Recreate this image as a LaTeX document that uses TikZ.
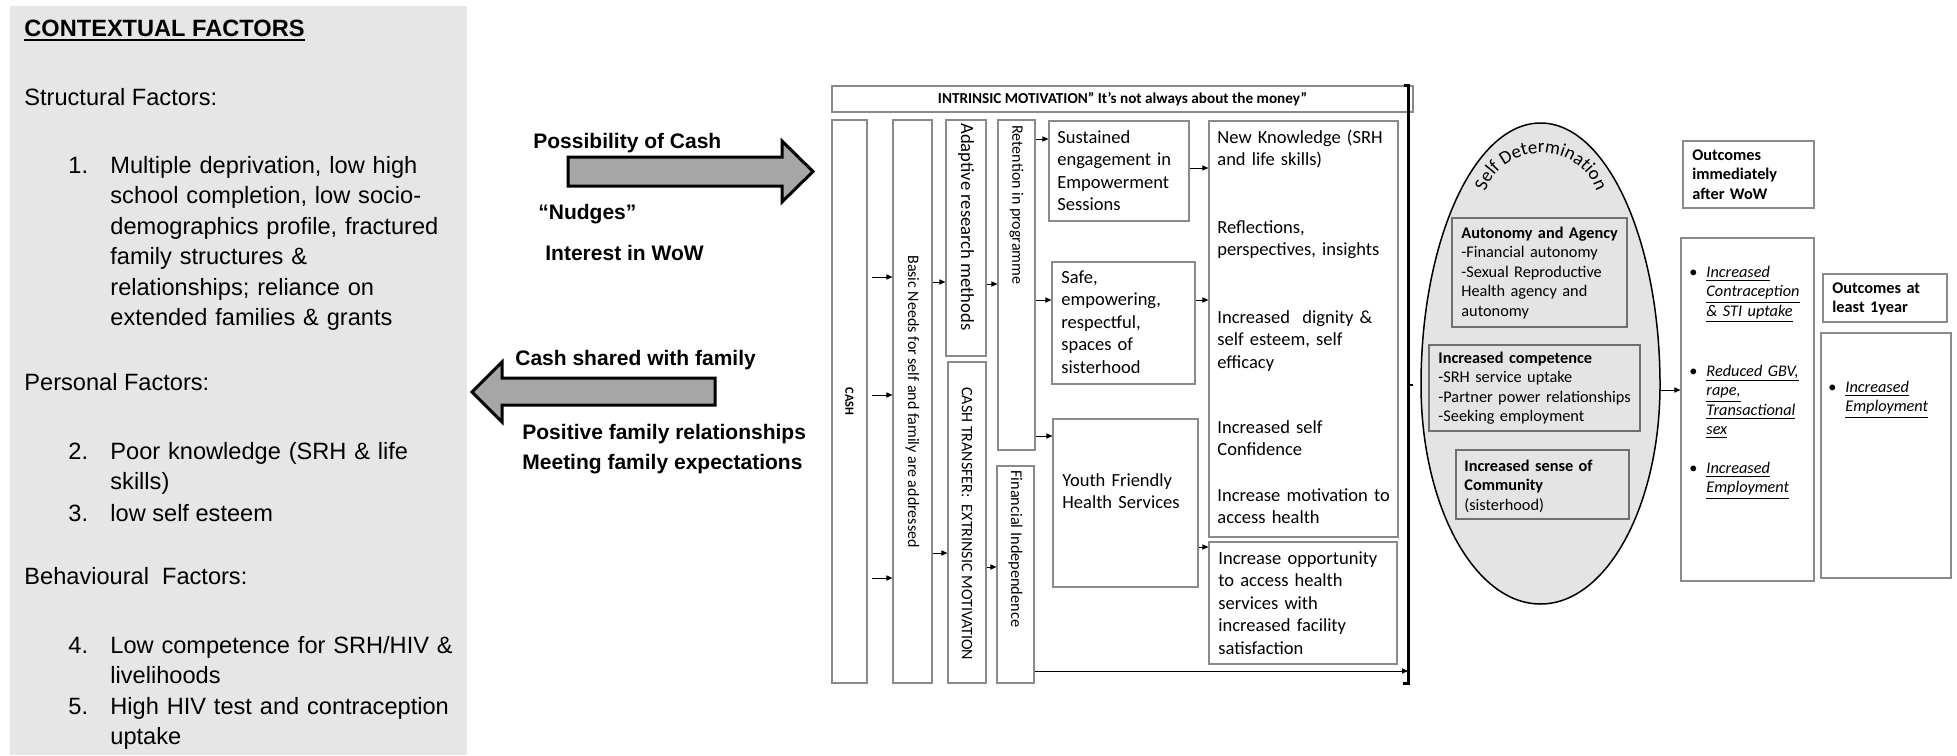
\documentclass[tikz,border=0pt]{standalone}
\usepackage{fontspec}
\setmainfont{Carlito}
\newfontfamily\arialfam{Liberation Sans}
\usetikzlibrary{arrows.meta,decorations.text}

\definecolor{panelgray}{HTML}{E6E6E6}
\definecolor{egggray}{HTML}{E4E4E4}
\definecolor{arrowgray}{HTML}{A6A6A6}
\definecolor{boxgray}{HTML}{8A8A8A}
\definecolor{innergray}{HTML}{707070}

% rectangle node given by its corners (x1,y1) (x2,y2) in pixel units
\newcommand{\regionbox}[6][]{%
  \node[#1, minimum width={(#5-#3)*0.5pt}, minimum height={(#6-#4)*0.5pt}]
    (#2) at ({(#3+#5)/2},{(#4+#6)/2}) {};}
\newcommand{\itul}[1]{\underline{\textit{#1}}}
\newcommand{\bulletmark}{\llap{•\hspace{4.5pt}}}

\tikzset{
  panel/.style={fill=panelgray, draw=none},
  colbox/.style={draw=boxgray, line width=0.6pt, fill=white, rectangle, inner sep=0},
  innerbox/.style={draw=innergray, line width=0.6pt, fill=egggray, rectangle, inner sep=0},
  outbox/.style={draw=boxgray, line width=0.6pt, fill=white, rectangle, inner sep=0},
  lp/.style={font=\arialfam\fontsize{11.8}{15.25}\selectfont, inner sep=0, anchor=base west, align=left},
  lpwide/.style={lp, text width=186pt},
  lphead/.style={lp, font=\arialfam\bfseries\fontsize{11.8}{15.25}\selectfont},
  flowlabel/.style={font=\arialfam\bfseries\fontsize{10.5}{13}\selectfont, inner sep=0, anchor=base west},
  midtext/.style={font=\fontsize{9.25}{11.3}\selectfont, inner sep=0, anchor=base west, align=left, text width=88pt},
  coltext/.style={font=\fontsize{8}{9.6}\selectfont, inner sep=0, rotate=-90},
  smalltext/.style={font=\fontsize{8.15}{9.75}\selectfont, inner sep=0, anchor=base west, align=left, text width=58pt},
  smallbold/.style={smalltext, font=\bfseries\fontsize{8.15}{9.75}\selectfont},
  conn/.style={-{Triangle[length=3pt,width=2.6pt]}, line width=0.5pt, black},
  bigarrow/.style={fill=arrowgray, draw=black, line width=1.5pt, line join=miter},
  eggshape/.style={fill=egggray, draw=black, line width=0.75pt},
}

\begin{document}
\begin{tikzpicture}[x=0.5pt, y=-0.5pt]
\useasboundingbox (0,0) rectangle (1957,755);

% ---------------- contextual factors panel ----------------
\fill[panel] (10,6) rectangle (467,755);
\node[lphead] (cfh) at (24,36) {CONTEXTUAL FACTORS};
\draw[line width=1pt] ([yshift=-1.7pt]cfh.south west) -- ([yshift=-1.7pt]cfh.south east);
\node[lp] (sf) at (24,105) {Structural Factors:};
\node[lp] (n1) at (68,173) {1.};
\node[lpwide] (f1) at (110,173) {Multiple deprivation, low high\\school completion, low socio-\\demographics profile, fractured\\family structures \&\\relationships; reliance on\\extended families \& grants};
\node[lp] (pf) at (24,390) {Personal Factors:};
\node[lp] (n2) at (68,459) {2.};
\node[lpwide] (f2) at (110,459) {Poor knowledge (SRH \& life\\skills)};
\node[lp] (n3) at (68,521) {3.};
\node[lp] (f3) at (110,521) {low self esteem};
\node[lp] (bf) at (24,584) {Behavioural\ \ Factors:};
\node[lp] (n4) at (68,653) {4.};
\node[lpwide] (f4) at (110,653) {Low competence for SRH/HIV \&\\livelihoods};
\node[lp] (n5) at (68,714) {5.};
\node[lpwide] (f5) at (110,714) {High HIV test and contraception\\uptake};

% ---------------- cash flows ----------------
\draw[bigarrow] (568,157) -- (782,157) -- (782,141) -- (813,171.5) -- (782,202) -- (782,186) -- (568,186) -- cycle;
\draw[bigarrow] (715,378) -- (502,378) -- (502,362) -- (472,392) -- (502,422) -- (502,405) -- (715,405) -- cycle;
\node[flowlabel] (lpc) at (533,148) {Possibility of Cash};
\node[flowlabel] (lnud) at (538,219) {“Nudges”};
\node[flowlabel] (lint) at (545,260) {Interest in WoW};
\node[flowlabel] (lcsf) at (515,365) {Cash shared with family};
\node[flowlabel] (lpos) at (522,439) {Positive family relationships};
\node[flowlabel] (lmeet) at (522,469) {Meeting family expectations};

% ---------------- programme columns ----------------
\regionbox[colbox]{banner}{832}{86}{1413}{112}
\node[inner sep=0, font=\bfseries\fontsize{7.6}{9}\selectfont] (tban) at (banner.center) {INTRINSIC MOTIVATION” It’s not always about the money”};

\regionbox[colbox]{cash}{832}{120}{867}{683}
\regionbox[colbox]{basic}{893}{120}{932}{683}
\regionbox[colbox]{adapt}{946}{120}{986}{356}
\regionbox[colbox]{ctrans}{948}{362}{986}{683}
\regionbox[colbox]{reten}{998}{120}{1035}{450}
\regionbox[colbox]{finind}{997}{466}{1034}{683}

\node[coltext, font=\bfseries\fontsize{6.2}{7}\selectfont] (tcash) at (cash.center) {CASH};
\node[coltext] (tbasic) at (basic.center) {Basic Needs for self and family are addressed};
\node[coltext, anchor=west, font=\fontsize{9.3}{11}\selectfont] (tadapt) at (966,123) {Adaptive research methods};
\node[coltext, anchor=west] (tctrans) at (967,387) {CASH TRANSFER:~ EXTRINSIC MOTIVATION};
\node[coltext, anchor=west] (treten) at (1016.5,125) {Retention in programme};
\node[coltext, anchor=west, font=\fontsize{8.15}{9.6}\selectfont] (tfin) at (1015.5,470) {Financial Independence};

\regionbox[colbox]{sust}{1049}{121}{1189}{221}
\regionbox[colbox]{safe}{1052}{262}{1195}{384}
\regionbox[colbox]{youth}{1053}{419}{1198}{587}
\regionbox[colbox]{nk}{1209}{121}{1398}{537}
\regionbox[colbox]{opp}{1209}{542}{1397}{664}

\node[midtext, text width=62pt] (tsust) at (1057,143) {Sustained\\engagement in\\Empowerment\\Sessions};
\node[midtext, text width=62pt] (tsafe) at (1061,283) {Safe,\\empowering,\\respectful,\\spaces of\\sisterhood};
\node[midtext, text width=64pt] (tyouth) at (1062,486) {Youth Friendly\\Health Services};
\node[midtext] (tnk1) at (1217,143) {New Knowledge (SRH\\and life skills)};
\node[midtext] (tnk2) at (1217,233) {Reflections,\\perspectives, insights};
\node[midtext] (tnk3) at (1217,323) {Increased~ dignity \&\\self esteem, self\\efficacy};
\node[midtext] (tnk4) at (1217,433) {Increased self\\Confidence};
\node[midtext] (tnk5) at (1217,501) {Increase motivation to\\access health};
\node[midtext] (topp) at (1218,564) {Increase opportunity\\to access health\\services with\\increased facility\\satisfaction};

% bracket closing the programme block
\coordinate (brT) at (1408,85);
\coordinate (brB) at (1408,683);
\draw[line width=1.5pt] ([xshift=-2pt]brT) -- (brT) -- (brB) -- ([xshift=-2.5pt]brB);

% levels of the programme arrows
\coordinate (c1) at (0,277);
\coordinate (c2) at (0,395);
\coordinate (c3) at (0,578);
\coordinate (b1) at (0,282);
\coordinate (b2) at (0,553);
\coordinate (a1) at (0,284);
\coordinate (t1) at (0,567);
\coordinate (r1) at (0,139);
\coordinate (r2) at (0,300);
\coordinate (r3) at (0,436);
\coordinate (s1) at (0,168);
\coordinate (y1) at (0,547);
\coordinate (f1) at (0,671);
\coordinate (e1) at (0,390);
\coordinate (k1) at (0,385);

\draw[conn, shorten <=2pt] (cash.east |- c1) -- (basic.west |- c1);
\draw[conn, shorten <=2pt] (cash.east |- c2) -- (basic.west |- c2);
\draw[conn, shorten <=2pt] (cash.east |- c3) -- (basic.west |- c3);
\draw[conn] (basic.east |- b1) -- (adapt.west |- b1);
\draw[conn] (basic.east |- b2) -- (ctrans.west |- b2);
\draw[conn] (adapt.east |- a1) -- (reten.west |- a1);
\draw[conn] (ctrans.east |- t1) -- (finind.west |- t1);
\draw[conn] (reten.east |- r1) -- (sust.west |- r1);
\draw[conn] (reten.east |- r2) -- (safe.west |- r2);
\draw[conn] (reten.east |- r3) -- (youth.west |- r3);
\draw[conn] (sust.east |- s1) -- (nk.west |- s1);
\draw[conn] (safe.east |- r2) -- (nk.west |- r2);
\draw[conn] (youth.east |- y1) -- (opp.west |- y1);
\draw[conn] (finind.east |- f1) -- (brT |- f1);
\draw[line width=0.6pt] (brT |- k1) -- ++(2.5pt,0);

% ---------------- self determination ----------------
\path[eggshape] (1421,385) arc[start angle=180, end angle=360, x radius=119.5, y radius=262]
  arc[start angle=0, end angle=180, x radius=119.5, y radius=219] -- cycle;
\coordinate (eggE) at (1660,385);
\path[decorate, decoration={text along path, text align=center,
  text={|\fontsize{9.4}{11}\selectfont|Self Determination}}]
  (1486.5,188.5) arc[start angle=-160, end angle=-20, x radius=58, y radius=54];

\regionbox[innerbox]{auto}{1452}{218}{1627}{327}
\regionbox[innerbox]{comp}{1429}{345}{1640}{431}
\regionbox[innerbox]{comm}{1456}{450}{1629}{519}
\node[smalltext, text width=82pt] (tauto) at (1461,238) {\textbf{Autonomy and Agency}\\-Financial autonomy\\-Sexual Reproductive\\Health agency and\\autonomy};
\node[smalltext, text width=100pt] (tcomp) at (1438,363) {\textbf{Increased competence}\\-SRH service uptake\\-Partner power relationships\\-Seeking employment};
\node[smalltext, text width=80pt] (tcomm) at (1464,471) {\textbf{Increased sense of}\\\textbf{Community}\\(sisterhood)};

% ---------------- outcomes ----------------
\regionbox[outbox]{oimm}{1683}{141}{1814}{208}
\regionbox[outbox]{out2}{1681}{238}{1814}{581}
\regionbox[outbox]{oyear}{1823}{274}{1947}{322}
\regionbox[outbox]{out4}{1821}{333}{1951}{578}
\node[smallbold] (toimm) at (1692,160) {Outcomes\\immediately\\after WoW};
\node[smallbold] (toyear) at (1832,293) {Outcomes at\\least 1year};
\node[smalltext] (o2a) at (1706,277) {\bulletmark\itul{Increased}\\\itul{Contraception}\\\itul{\& STI uptake}};
\node[smalltext] (o2b) at (1706,376) {\bulletmark\itul{Reduced GBV,}\\\itul{rape,}\\\itul{Transactional}\\\itul{sex}};
\node[smalltext] (o2c) at (1706,473) {\bulletmark\itul{Increased}\\\itul{Employment}};
\node[smalltext] (o4a) at (1845,392) {\bulletmark\itul{Increased}\\\itul{Employment}};

\draw[conn] (eggE |- e1) -- (out2.west |- e1);
\end{tikzpicture}
\end{document}
